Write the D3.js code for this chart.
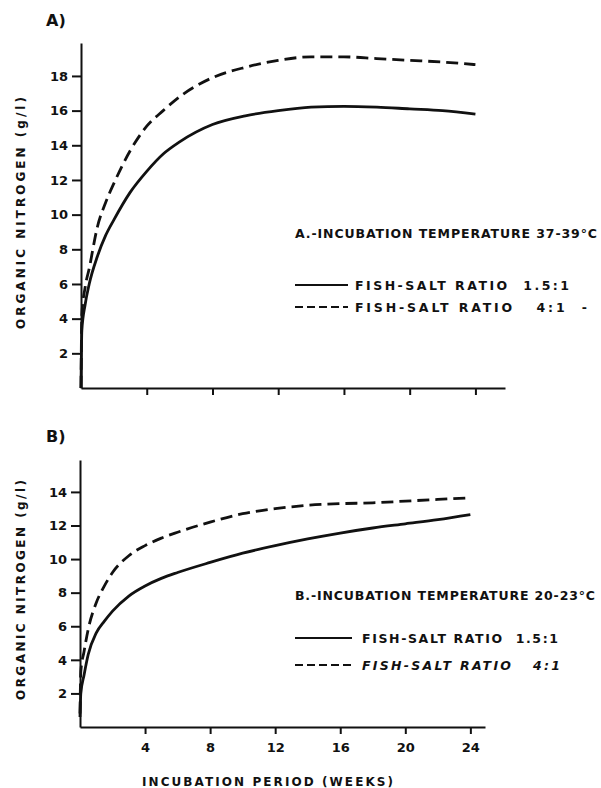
<!DOCTYPE html>
<html>
<head>
<meta charset="utf-8">
<script src="https://cdn.jsdelivr.net/npm/d3@7"></script>
<style>
  body { margin: 0; background: #fff; }
  svg { display: block; }
  text { font-family: "DejaVu Sans", sans-serif; font-weight: bold; fill: #111; }
  .axis path, .axis line { stroke: #111; stroke-width: 2; }
  .axis text { font-size: 13px; }
</style>
</head>
<body>
<div id="chart"></div>
<script>
// weeks sampled along every curve
var weeks = [0, 0.05, 0.25, 0.5, 1, 1.5, 2, 3, 4, 5, 6, 8, 10, 12, 14, 16, 18, 20, 22, 24];

// A) 37-39 C
var aRatio15 = [0, 3.3, 4.8, 6.0, 7.6, 8.8, 9.7, 11.3, 12.5, 13.5, 14.2, 15.2, 15.7, 16.0, 16.2, 16.25, 16.2, 16.1, 16.0, 15.8];
var aRatio4 = [0, 4.2, 5.8, 6.9, 9.3, 10.7, 11.8, 13.7, 15.1, 16.0, 16.8, 17.9, 18.5, 18.9, 19.1, 19.1, 19.0, 18.9, 18.8, 18.65];

// B) 20-23 C
var bRatio15 = [0.6, 2.0, 3.1, 4.3, 5.6, 6.3, 6.9, 7.8, 8.4, 8.85, 9.2, 9.8, 10.35, 10.8, 11.2, 11.55, 11.85, 12.1, 12.35, 12.65];
var bRatio4 = [0.8, 3.3, 4.5, 5.8, 7.4, 8.4, 9.2, 10.2, 10.8, 11.25, 11.6, 12.2, 12.7, 13.0, 13.2, 13.3, 13.35, 13.45, 13.55, 13.65];

var xTicks = [4, 8, 12, 16, 20, 24];
var yTicksA = [2, 4, 6, 8, 10, 12, 14, 16, 18];
var yTicksB = [2, 4, 6, 8, 10, 12, 14];

var svg = d3.select('#chart').append('svg')
    .attr('width', 601)
    .attr('height', 788);

function panel(opts) {
  var x = d3.scaleLinear().domain([0, opts.xMax]).range(opts.xRange);
  var y = d3.scaleLinear().domain([0, opts.yMax]).range(opts.yRange);

  var line = d3.line()
      .curve(d3.curveMonotoneX)
      .x(function(d) { return x(d[0]); })
      .y(function(d) { return y(d[1]); });

  // X axis
  var xAxis = d3.axisBottom(x)
      .tickValues(xTicks)
      .tickSize(7)
      .tickSizeOuter(0)
      .tickPadding(9);
  var gx = svg.append('g')
      .attr('class', 'axis')
      .attr('transform', 'translate(0,' + opts.yRange[0] + ')')
      .call(xAxis);
  if (!opts.xLabels) gx.selectAll('.tick text').remove();

  // Y axis
  var yAxis = d3.axisLeft(y)
      .tickValues(opts.yTicks)
      .tickSize(9)
      .tickSizeOuter(0)
      .tickPadding(4);
  svg.append('g')
    .attr('class', 'axis')
    .attr('transform', 'translate(' + opts.xRange[0] + ',0)')
    .call(yAxis);

  svg.append('text')
    .attr('transform', 'translate(25,' + opts.yTitleY + ') rotate(-90)')
    .attr('text-anchor', 'middle')
    .attr('textLength', opts.yTitleLen)
    .attr('lengthAdjust', 'spacing')
    .style('font-size', '12px')
    .text('ORGANIC  NITROGEN (g/l)');

  svg.append('text')
    .attr('x', 46)
    .attr('y', opts.letterY)
    .style('font-size', '16px')
    .text(opts.letter);

  // curves
  opts.series.forEach(function(s) {
    svg.append('path')
      .datum(weeks.map(function(w, i) { return [w, s.values[i]]; }))
      .attr('fill', 'none')
      .attr('stroke', '#111')
      .attr('stroke-width', 2.8)
      .attr('stroke-dasharray', s.dash ? '12,6' : null)
      .attr('d', line);
  });

  // legend
  var lg = opts.legend;
  svg.append('text')
    .attr('x', 295)
    .attr('y', lg.headY)
    .attr('textLength', lg.headLen)
    .attr('lengthAdjust', 'spacing')
    .style('font-size', '12.5px')
    .text(lg.head);

  lg.rows.forEach(function(r) {
    svg.append('line')
      .attr('x1', 295)
      .attr('x2', lg.lineEnd)
      .attr('y1', r.y)
      .attr('y2', r.y)
      .attr('stroke', '#111')
      .attr('stroke-width', 2.2)
      .attr('stroke-dasharray', r.dash ? '8,4' : null);
    svg.append('text')
      .attr('x', lg.textX)
      .attr('y', r.y + 5)
      .attr('textLength', r.len)
      .attr('lengthAdjust', 'spacing')
      .style('font-size', '12.5px')
      .style('font-style', r.italic ? 'italic' : null)
      .attr('xml:space', 'preserve')
      .text(r.label);
  });
}

panel({
  letter: 'A)',
  letterY: 26,
  xMax: 25.8, xRange: [81, 505],
  yMax: 19.9, yRange: [388, 43],
  yTicks: yTicksA,
  xLabels: false,
  yTitleY: 213, yTitleLen: 232,
  series: [
    {values: aRatio15, dash: false},
    {values: aRatio4, dash: true}
  ],
  legend: {
    head: 'A.-INCUBATION TEMPERATURE 37-39\u00b0C',
    headY: 238, headLen: 302,
    lineEnd: 348, textX: 355,
    rows: [
      {y: 285, dash: false, label: 'FISH-SALT RATIO  1.5:1', len: 214},
      {y: 307, dash: true, label: 'FISH-SALT RATIO   4:1  -', len: 232}
    ]
  }
});

panel({
  letter: 'B)',
  letterY: 442,
  xMax: 24.9, xRange: [80, 485],
  yMax: 15.9, yRange: [727, 460],
  yTicks: yTicksB,
  xLabels: true,
  yTitleY: 590, yTitleLen: 220,
  series: [
    {values: bRatio15, dash: false},
    {values: bRatio4, dash: true}
  ],
  legend: {
    head: 'B.-INCUBATION TEMPERATURE 20-23\u00b0C',
    headY: 600, headLen: 300,
    lineEnd: 352, textX: 362,
    rows: [
      {y: 638, dash: false, label: 'FISH-SALT RATIO  1.5:1', len: 196},
      {y: 665, dash: true, italic: true, label: 'FISH-SALT RATIO   4:1', len: 198}
    ]
  }
});

// X axis title
svg.append('text')
  .attr('x', 142)
  .attr('y', 786)
  .attr('textLength', 251)
  .attr('lengthAdjust', 'spacing')
  .style('font-size', '12px')
  .text('INCUBATION PERIOD (WEEKS)');
</script>
</body>
</html>
